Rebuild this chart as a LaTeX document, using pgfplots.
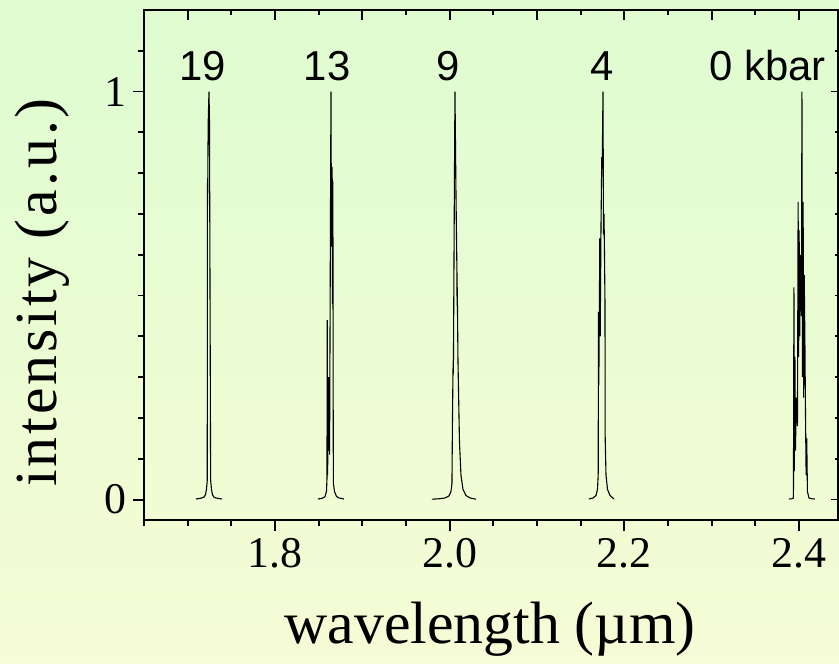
\documentclass[border=0pt]{standalone}
\usepackage{fontspec}
\setmainfont{Liberation Serif}
\newfontfamily\arialf{Liberation Sans}
\newfontfamily\spacedserif[LetterSpace=5]{Liberation Serif}
\usepackage{pgfplots}
\pgfplotsset{compat=1.18}
\definecolor{bgtop}{RGB}{222,252,208}
\definecolor{bgbot}{RGB}{246,252,213}
\pgfplotsset{
  common/.style={
    at={(0,0)}, anchor=south west,
    scale only axis, width=347bp, height=255bp,
    xmin=1.65, xmax=2.4447, ymin=-0.05, ymax=1.2,
    axis line style={line width=1bp},
    tick style={line width=0.9bp, black},
    /pgf/number format/assume math mode=true,
  }
}
\begin{document}
\begin{tikzpicture}
\useasboundingbox (-72bp,-72bp) rectangle (347.5bp,260bp);
\shade[top color=bgtop,bottom color=bgbot] (-72bp,-72bp) rectangle (347.5bp,260bp);
% top ticks (inside)
\begin{axis}[common,
  xtick pos=top, tick align=inside,
  xtick={1.7,1.8,1.9,2.0,2.1,2.2,2.3,2.4},
  minor xtick={1.65,1.75,1.85,1.95,2.05,2.15,2.25,2.35},
  ytick=\empty, xticklabels={},
  major tick length=5bp, minor tick length=2.5bp]
\end{axis}
% right ticks (inside)
\begin{axis}[common,
  ytick pos=right, tick align=inside,
  ytick={0,1}, minor ytick={0.1,0.2,0.3,0.4,0.5,0.6,0.7,0.8,0.9,1.1},
  xtick=\empty, yticklabels={},
  major tick length=3.5bp, minor tick length=1.6bp]
\end{axis}
% main axis
\begin{axis}[common,
  xtick pos=bottom, ytick pos=left, tick align=outside,
  xtick={1.8,2.0,2.2,2.4},
  minor xtick={1.65,1.7,1.75,1.85,1.9,1.95,2.05,2.1,2.15,2.25,2.3,2.35},
  ytick={0,1}, minor ytick={0.1,0.2,0.3,0.4,0.5,0.6,0.7,0.8,0.9,1.1},
  major tick length=5.5bp, minor tick length=2.8bp,
  tick label style={font=\fontsize{22}{24}\selectfont},
  xticklabel style={/pgf/number format/fixed, /pgf/number format/fixed zerofill, /pgf/number format/precision=1},
  xlabel={wavelength (µm)},
  ylabel={intensity (a.u.)},
  xlabel style={font=\fontsize{30}{32}\selectfont, at={(axis description cs:0.4986,-0.2431)}, anchor=base},
  ylabel style={font=\spacedserif\fontsize{30}{32}\selectfont, at={(axis description cs:-0.1254,0.446)}, anchor=base},
]
% 19 kbar
\addplot[black, line width=0.55bp] coordinates {
(1.70951,0.0015) (1.71409,0.003) (1.71604,0.004) (1.71867,0.006) (1.72039,0.012)
(1.72154,0.025) (1.72245,0.047) (1.72257,0.50) (1.72268,0.775) (1.72291,0.74)
(1.72348,0.92) (1.72440,1.0) (1.72497,0.93) (1.72623,0.10) (1.72635,0.047)
(1.72726,0.025) (1.72841,0.012) (1.73013,0.006) (1.73242,0.004) (1.73471,0.003)
(1.73929,0.0015)};
% 13 kbar
\addplot[black, line width=0.55bp] coordinates {
(1.84921,0.0015) (1.85379,0.003) (1.85723,0.007) (1.85895,0.02) (1.85952,0.05)
(1.85986,0.44) (1.86021,0.06) (1.86158,0.30) (1.86192,0.12) (1.86215,0.29)
(1.86250,0.11) (1.86318,0.5) (1.86410,1.0) (1.86467,0.62) (1.86548,0.815)
(1.86582,0.48) (1.86628,0.78) (1.86662,0.25) (1.86685,0.04) (1.86811,0.02)
(1.87040,0.008) (1.87326,0.004) (1.87899,0.0015)};
% 9 kbar
\addplot[black, line width=0.55bp] coordinates {
(1.97975,0.001) (1.98777,0.002) (1.99465,0.004) (1.99923,0.009) (2.00152,0.02)
(2.00266,0.04) (2.00324,0.2) (2.00381,0.31) (2.00404,0.34) (2.00427,0.31)
(2.00553,0.8) (2.00610,1.0) (2.00725,0.75) (2.00839,0.55) (2.00851,0.475)
(2.00873,0.52) (2.00954,0.34) (2.01126,0.14) (2.01297,0.06) (2.01526,0.025)
(2.01870,0.01) (2.02328,0.004) (2.03016,0.001)};
% 4 kbar
\addplot[black, line width=0.55bp] coordinates {
(2.15956,0.0015) (2.16415,0.004) (2.16758,0.01) (2.16930,0.025) (2.17010,0.06)
(2.17045,0.46) (2.17079,0.28) (2.17136,0.43) (2.17193,0.64) (2.17239,0.40)
(2.17331,0.67) (2.17423,0.84) (2.17468,0.81) (2.17560,1.0) (2.17617,0.65)
(2.17675,0.70) (2.17732,0.60) (2.17789,0.48) (2.17812,0.15) (2.17904,0.06)
(2.18076,0.025) (2.18362,0.01) (2.18820,0.0015)};
% 0 kbar
\addplot[black, line width=0.55bp] coordinates {
(2.38851,0.0015) (2.39195,0.002) (2.39366,0.004) (2.39424,0.52) (2.39469,0.07)
(2.39538,0.35) (2.39595,0.12) (2.39710,0.25) (2.39825,0.18) (2.39905,0.73)
(2.39962,0.35) (2.40019,0.66) (2.40088,0.40) (2.40168,0.60) (2.40283,0.45)
(2.40340,1.0) (2.40397,0.30) (2.40477,0.73) (2.40535,0.25) (2.40603,0.55)
(2.40684,0.38) (2.40752,0.20) (2.40821,0.06) (2.40890,0.15) (2.40970,0.02)
(2.41142,0.004) (2.41486,0.002) (2.41829,0.0015)};
\node[anchor=base, font=\arialf\fontsize{21}{23}\selectfont] at (axis cs:1.7175,1.027) {19};
\node[anchor=base, font=\arialf\fontsize{21}{23}\selectfont] at (axis cs:1.8596,1.027) {13};
\node[anchor=base, font=\arialf\fontsize{21}{23}\selectfont] at (axis cs:1.9982,1.027) {9};
\node[anchor=base, font=\arialf\fontsize{21}{23}\selectfont] at (axis cs:2.1746,1.027) {4};
\node[anchor=base, font=\arialf\fontsize{21}{23}\selectfont] at (axis cs:2.364,1.027) {0 kbar};
\end{axis}
\end{tikzpicture}
\end{document}
